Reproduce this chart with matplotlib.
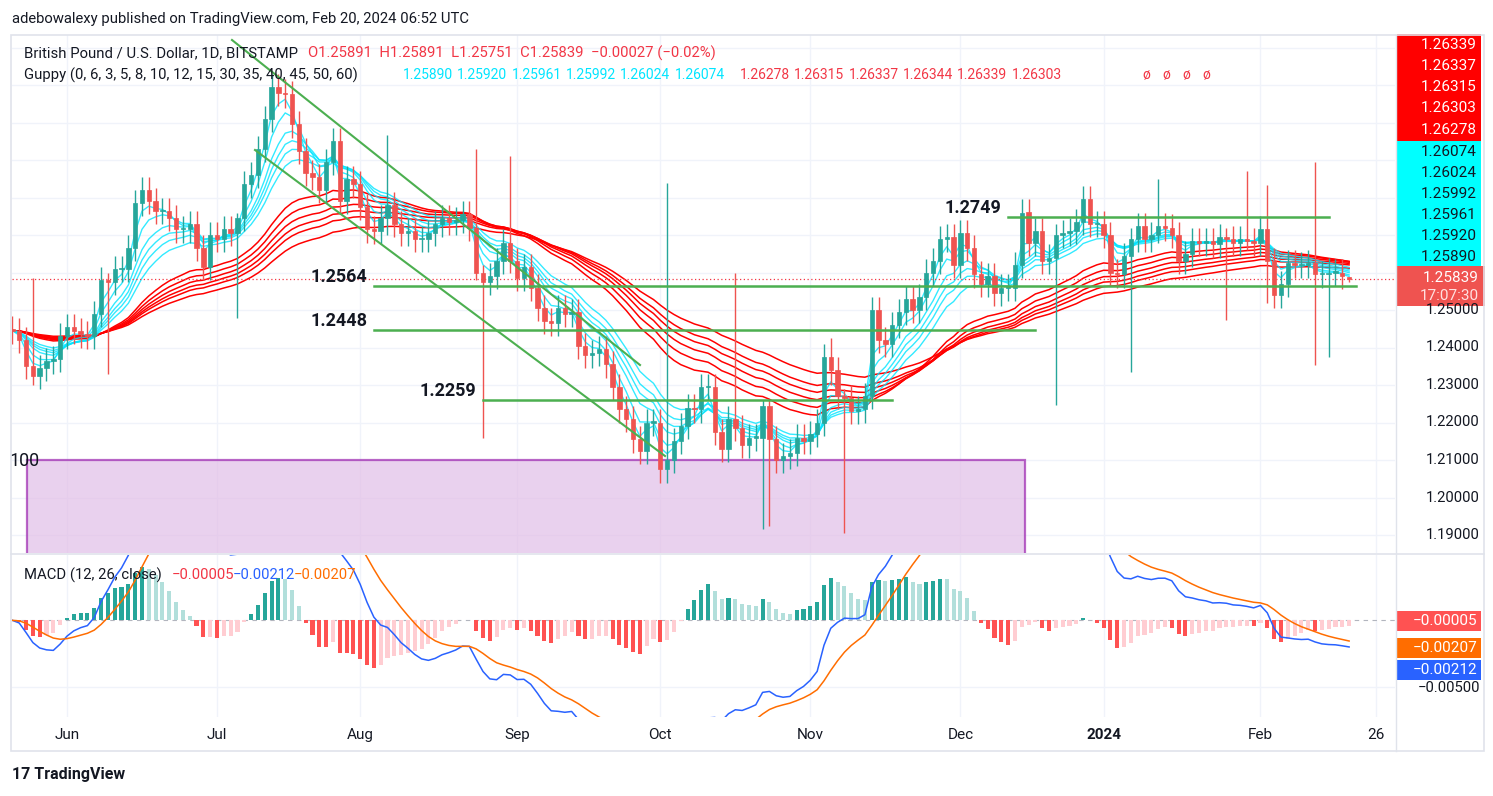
import numpy as np
import pandas as pd
import matplotlib
matplotlib.use("Agg")
import matplotlib.pyplot as plt
from matplotlib.patches import Rectangle

plt.rcParams["font.family"] = ["Roboto", "DejaVu Sans"]

# ---------------- data ----------------
closes_may = [1.2445, 1.2420, 1.2350, 1.2325, 1.2345, 1.2365, 1.2370, 1.2430]
closes_jun = [1.2455, 1.2445, 1.2435, 1.2430, 1.2490, 1.2580, 1.2575, 1.2610, 1.2610, 1.2665, 1.2785,
              1.2820, 1.2790, 1.2765, 1.2765, 1.2745, 1.2715, 1.2715, 1.2730, 1.2665, 1.2615, 1.2700]
closes_jul = [1.2690, 1.2715, 1.2705, 1.2745, 1.2835, 1.2860, 1.2930, 1.3010, 1.3095, 1.3080, 1.3075,
              1.2995, 1.2925, 1.2865, 1.2855, 1.2820, 1.2895, 1.2950, 1.2790, 1.2850, 1.2835]
closes_aug = [1.2775, 1.2715, 1.2710, 1.2745, 1.2780, 1.2730, 1.2705, 1.2710, 1.2690, 1.2690, 1.2705,
              1.2730, 1.2745, 1.2735, 1.2740, 1.2755, 1.2720, 1.2600, 1.2575, 1.2590, 1.2630, 1.2680, 1.2630]
closes_sep = [1.2585, 1.2615, 1.2560, 1.2505, 1.2470, 1.2465, 1.2505, 1.2490, 1.2495, 1.2405, 1.2380,
              1.2385, 1.2395, 1.2355, 1.2295, 1.2235, 1.2210, 1.2155, 1.2125, 1.2200, 1.2200]
closes_oct = [1.2075, 1.2100, 1.2150, 1.2190, 1.2240, 1.2235, 1.2295, 1.2295, 1.2175, 1.2130, 1.2210,
              1.2185, 1.2140, 1.2160, 1.2160, 1.2245, 1.2155, 1.2100, 1.2110, 1.2120, 1.2160, 1.2150]
closes_nov = [1.2170, 1.2200, 1.2375, 1.2340, 1.2270, 1.2265, 1.2230, 1.2235, 1.2270, 1.2500, 1.2420,
              1.2410, 1.2460, 1.2495, 1.2530, 1.2500, 1.2535, 1.2600, 1.2630, 1.2690, 1.2695, 1.2620]
closes_dec = [1.2705, 1.2665, 1.2595, 1.2570, 1.2590, 1.2545, 1.2560, 1.2560, 1.2620, 1.2760, 1.2680,
              1.2710, 1.2630, 1.2640, 1.2700, 1.2705, 1.2710, 1.2735, 1.2795, 1.2730, 1.2730]
closes_jan = [1.2700, 1.2600, 1.2595, 1.2645, 1.2690, 1.2725, 1.2690, 1.2700, 1.2725, 1.2720, 1.2700,
              1.2630, 1.2650, 1.2685, 1.2680, 1.2685, 1.2675, 1.2695, 1.2690, 1.2680, 1.2690, 1.2685, 1.2680]
closes_feb = [1.2715, 1.2630, 1.2540, 1.2570, 1.2625, 1.2620, 1.2620, 1.2625, 1.2595, 1.2595,
              1.2600, 1.2600, 1.2590, 1.25839]

# notable wick extremes: date -> (high, low)
wick_overrides = {
    "2023-05-25": (1.2585, 1.2300), "2023-06-09": (1.2600, 1.2330), "2023-07-06": (1.2760, 1.2480),
    "2023-08-07": (1.2967, 1.2700), "2023-08-24": (1.2930, 1.2580), "2023-08-25": (1.2620, 1.2160),
    "2023-08-31": (1.2910, 1.2600), "2023-10-03": (1.2840, 1.2040), "2023-10-17": (1.2600, 1.2150),
    "2023-10-23": (1.2260, 1.1915), "2023-10-24": (1.2260, 1.1925), "2023-11-06": (1.2425, 1.2300),
    "2023-11-08": (1.2290, 1.1905), "2023-12-21": (1.2730, 1.2247), "2024-01-05": (1.2720, 1.2335),
    "2024-01-11": (1.2850, 1.2680), "2024-01-25": (1.2720, 1.2473), "2024-01-30": (1.2870, 1.2660),
    "2024-02-02": (1.2833, 1.2520), "2024-02-13": (1.2895, 1.2353), "2024-02-15": (1.2640, 1.2375),
}
wick_default = 0.0035

guppy_short = [3, 5, 8, 10, 12, 15]
guppy_long = [30, 35, 40, 45, 50, 60]
short_vals = ["1.25890", "1.25920", "1.25961", "1.25992", "1.26024", "1.26074"]
long_vals = ["1.26278", "1.26315", "1.26337", "1.26344", "1.26339", "1.26303"]

price_ticks = [1.19, 1.20, 1.21, 1.22, 1.23, 1.24, 1.25]
red_boxes = ["1.26339", "1.26337", "1.26315", "1.26303", "1.26278"]
cyan_boxes = ["1.26074", "1.26024", "1.25992", "1.25961", "1.25920", "1.25890"]
hlines = [(1.2749, "2023-12-12", "2024-02-15"), (1.2564, "2023-08-03", "2024-02-21"),
          (1.2448, "2023-08-03", "2023-12-18"), (1.2259, "2023-08-25", "2023-11-17")]
date_labels = [("2023-06-01", "Jun"), ("2023-07-03", "Jul"), ("2023-08-01", "Aug"), ("2023-09-01", "Sep"),
               ("2023-10-02", "Oct"), ("2023-11-01", "Nov"), ("2023-12-01", "Dec"), ("2024-01-01", "2024"),
               ("2024-02-01", "Feb"), ("2024-02-26", "26")]

# --------------- build ---------------
closes = np.array(closes_may + closes_jun + closes_jul + closes_aug + closes_sep + closes_oct +
                  closes_nov + closes_dec + closes_jan + closes_feb)
allb = pd.bdate_range("2023-05-22", "2024-03-01")
pos = {d.strftime("%Y-%m-%d"): i for i, d in enumerate(allb)}
n = len(closes)
x = np.arange(n)
opens = np.r_[closes[0] + 0.0005, closes[:-1]]
opens[-1] = 1.25891
highs = np.maximum(opens, closes) + wick_default
lows = np.minimum(opens, closes) - wick_default
highs[-1], lows[-1] = 1.25891, 1.25751
for d, (h, l) in wick_overrides.items():
    i = pos[d]
    highs[i], lows[i] = h, l

s = pd.Series(closes)
W, H = 1493, 796
fig = plt.figure(figsize=(W / 100, H / 100), dpi=100)
fig.patch.set_facecolor("white")
L, R = 12, 1395
def rect(top, bot):
    return [L / W, 1 - bot / H, (R - L) / W, (bot - top) / H]

def px2x(p):
    return (p - 12.4) / 6.82
def py2p(p):
    return 1.21 + (460 - p) / 3750.0
def fy(p):
    return 1 - p / H

ax = fig.add_axes(rect(35, 553))
ax.set_xlim(px2x(L), px2x(R))
ax.set_ylim(py2p(553), py2p(35))
for a in ax.spines.values():
    a.set_visible(False)
ax.set_xticks([]); ax.set_yticks([])
gridc = "#f0f3fa"
for t in price_ticks + [1.26, 1.27, 1.28, 1.29, 1.30, 1.31, 1.32]:
    ax.axhline(t, color=gridc, lw=1, zorder=0)
for d, _ in date_labels:
    ax.axvline(pos[d], color=gridc, lw=1, zorder=0)

# purple box
x0, x1 = px2x(27), px2x(1025)
ax.add_patch(Rectangle((x0, py2p(553) - 0.01), x1 - x0, 1.21 - py2p(553) + 0.01,
                       facecolor="#e1bee7", alpha=0.7, edgecolor="#9c27b0", lw=1.6, zorder=1))
ax.text(px2x(10), 1.2097, "100", fontsize=13, color="#131722", va="center", ha="left", zorder=6)

# guppy
for nn in guppy_long:
    ax.plot(x, s.ewm(span=nn, adjust=False).mean(), color="#ff0000", lw=1.1, zorder=2)
for nn in guppy_short:
    ax.plot(x, s.ewm(span=nn, adjust=False).mean(), color="#00e5ff", lw=1.0, alpha=0.8, zorder=2)

# candles
up = closes >= opens
for i in range(n):
    c = "#26a69a" if up[i] else "#ef5350"
    ax.vlines(x[i], lows[i], highs[i], color=c, lw=1, zorder=3)
    b0, b1 = min(opens[i], closes[i]), max(opens[i], closes[i])
    ax.add_patch(Rectangle((x[i] - 0.32, b0), 0.64, max(b1 - b0, 0.0003), facecolor=c, edgecolor=c,
                           lw=0.5, zorder=3))

# trendlines
g = "#4caf50"
ax.plot([px2x(232), px2x(640)], [py2p(40), py2p(365)], color=g, lw=1.5, zorder=4)
ax.plot([px2x(255), px2x(665)], [py2p(150), py2p(456)], color=g, lw=1.5, zorder=4)
for val, a0, a1 in hlines:
    ax.plot([pos[a0], pos[a1]], [val, val], color=g, lw=1.8, zorder=4)
    ax.text(pos[a0] - 1.0, val, f"{val:.4f}", fontsize=13, color="#131722", ha="right", va="bottom",
            fontweight="bold", zorder=6)
ax.axhline(closes[-1], color="#f23645", lw=0.9, ls=(0, (1, 2)), zorder=2)

# legend text
fs = 10.7
vfs = 10.0
fig.text(24 / W, fy(53), "British Pound / U.S. Dollar, 1D, BITSTAMP", fontsize=fs, color="#131722", va="center")
fig.text(308 / W, fy(53), "O1.25891  H1.25891  L1.25751  C1.25839  \u22120.00027 (\u22120.02%)",
         fontsize=fs, color="#f23645", va="center")
fig.text(24 / W, fy(75), "Guppy (0, 6, 3, 5, 8, 10, 12, 15, 30, 35, 40, 45, 50, 60)", fontsize=fs,
         color="#131722", va="center")
for k, v in enumerate(short_vals):
    fig.text((403 + 54.3 * k) / W, fy(75), v, fontsize=vfs, color="#00e5ff", va="center")
for k, v in enumerate(long_vals):
    fig.text((740 + 54.3 * k) / W, fy(75), v, fontsize=vfs, color="#f23645", va="center")
for k in range(4):
    fig.text((1142 + 20 * k) / W, fy(75), "\u00f8", fontsize=vfs, color="#f23645", va="center")
fig.text(12 / W, fy(19), "adebowalexy published on TradingView.com, Feb 20, 2024 06:52 UTC",
         fontsize=fs, color="#131722", va="center")

# right axis
for t in price_ticks:
    fig.text(1480 / W, fy(460 - (t - 1.21) * 3750), f"{t:.5f}", fontsize=fs, color="#131722",
             ha="right", va="center")
def box(ytop, ybot, col, txt, tc="white"):
    fig.patches.append(Rectangle((1397 / W, fy(ybot)), 84 / W, (ybot - ytop) / H, facecolor=col,
                                 edgecolor="none", transform=fig.transFigure, figure=fig))
    fig.text(1477 / W, fy((ytop + ybot) / 2), txt, fontsize=11, color=tc, ha="right", va="center")
ys = [45, 66, 87, 108, 130]
for yy, t in zip(ys, red_boxes):
    box(yy - 11, yy + 11, "#ff0000", t)
ys = [152, 173, 194, 215, 236, 257]
for yy, t in zip(ys, cyan_boxes):
    box(yy - 11, yy + 11, "#00ffff", t, "#131722")
fig.patches.append(Rectangle((1397 / W, fy(306)), 88 / W, 40 / H, facecolor="#ef5350", edgecolor="none",
                             transform=fig.transFigure, figure=fig))
fig.text(1479 / W, fy(278), "1.25839", fontsize=11, color="white", ha="right", va="center")
fig.text(1479 / W, fy(296), "17:07:30", fontsize=11, color="#ffe0e0", ha="right", va="center")

# MACD
ema12 = s.ewm(span=12, adjust=False).mean()
ema26 = s.ewm(span=26, adjust=False).mean()
macd = ema12 - ema26
sig = macd.ewm(span=9, adjust=False).mean()
hist = (macd - sig).values
bx = fig.add_axes(rect(555, 717))
bx.set_xlim(ax.get_xlim())
bx.set_ylim(-0.00005 - (717 - 621) / 13400, -0.00005 + (621 - 555) / 13400)
for a in bx.spines.values():
    a.set_visible(False)
bx.set_xticks([]); bx.set_yticks([])
for d, _ in date_labels:
    bx.axvline(pos[d], color=gridc, lw=1, zorder=0)
bx.axhline(-0.005, color=gridc, lw=1, zorder=0)
bx.axhline(0, color="#b2b5be", lw=0.8, ls=(0, (4, 4)), zorder=0)
cols = []
for i in range(n):
    prev = hist[i - 1] if i else hist[i]
    if hist[i] >= 0:
        cols.append("#26a69a" if hist[i] >= prev else "#b2dfdb")
    else:
        cols.append("#ffcdd2" if hist[i] >= prev else "#ff5252")
bx.bar(x, hist, width=0.6, color=cols, zorder=2)
bx.plot(x, macd, color="#2962ff", lw=1.1, zorder=3)
bx.plot(x, sig, color="#ff6d00", lw=1.1, zorder=3)
fig.text(24 / W, fy(575), "MACD (12, 26, close)", fontsize=fs, color="#131722", va="center")
fig.text(172 / W, fy(575), "\u22120.00005", fontsize=fs, color="#f23645", va="center")
fig.text(233 / W, fy(575), "\u22120.00212", fontsize=fs, color="#2962ff", va="center")
fig.text(294 / W, fy(575), "\u22120.00207", fontsize=fs, color="#ff6d00", va="center")
for yy, col, t in [(621, "#ff5252", "\u22120.00005"), (648, "#ff6d00", "\u22120.00207"),
                   (670, "#2962ff", "\u22120.00212")]:
    box(yy - 10, yy + 10, col, t)
fig.text(1480 / W, fy(688), "\u22120.00500", fontsize=fs, color="#131722", ha="right", va="center")

# date labels
for d, lab in date_labels:
    xp = 12.4 + pos[d] * 6.82
    fig.text(xp / W, fy(735), lab, fontsize=11, color="#131722", ha="center", va="center",
             fontweight="bold" if lab == "2024" else "normal")

# frame / separators
fr = dict(transform=fig.transFigure, figure=fig, facecolor="none", edgecolor="#e0e3eb", lw=1.2)
fig.patches.append(Rectangle((11 / W, fy(751)), 1473 / W, 716 / H, **fr))
fig.lines.append(plt.Line2D([11 / W, 1484 / W], [fy(554), fy(554)], color="#e0e3eb", lw=1.2,
                            transform=fig.transFigure))
fig.lines.append(plt.Line2D([1396 / W, 1396 / W], [fy(35), fy(751)], color="#e0e3eb", lw=1.0,
                            transform=fig.transFigure))
fig.text(12 / W, fy(775), "17 TradingView", fontsize=11.5, color="#131722", va="center", fontweight="bold")

fig.savefig("out.png", dpi=100)
